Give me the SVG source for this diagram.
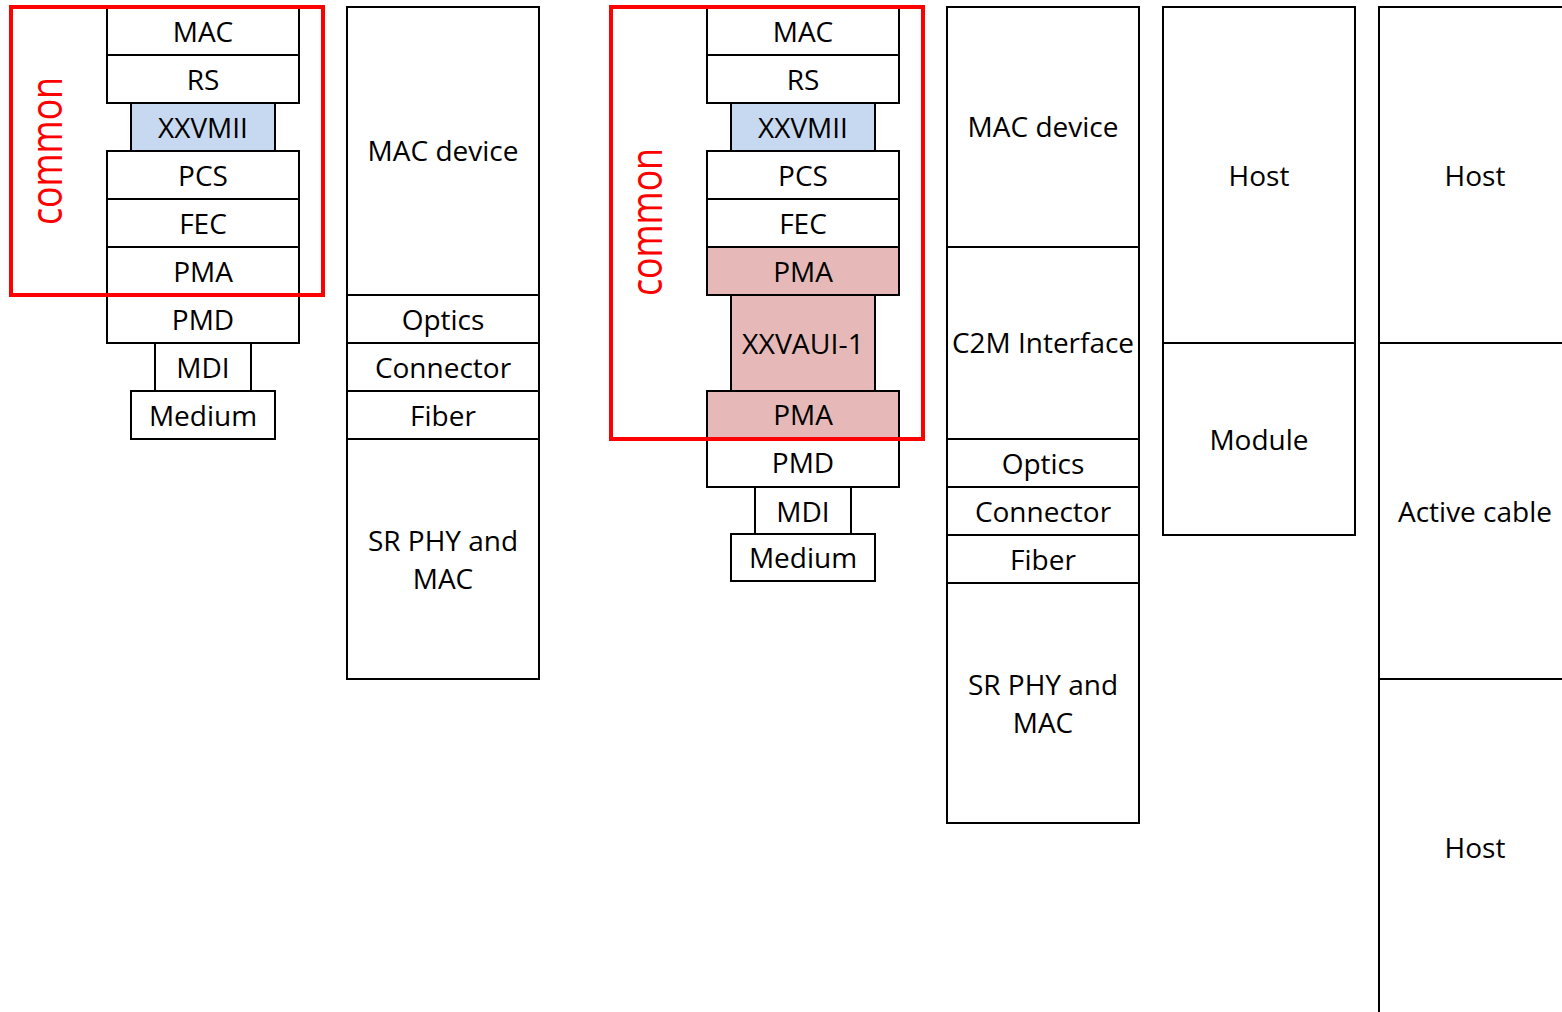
<svg xmlns="http://www.w3.org/2000/svg" width="1562" height="1012" viewBox="0 0 1562 1012">
<style>
.b{fill:#fff;stroke:#000;stroke-width:2}
.blue{fill:#C6D9F1;stroke:#000;stroke-width:2}
.pink{fill:#E6B9B8;stroke:#000;stroke-width:2}
.t{font-family:"Open Sans","Noto Sans",sans-serif;font-size:28px;fill:#000;text-anchor:middle}
.red{fill:none;stroke:#FF0000;stroke-width:4}
.rt{font-family:"Open Sans","Noto Sans",sans-serif;font-size:44px;fill:#FF0000;text-anchor:middle}
</style>
<rect width="1562" height="1012" fill="#fff"/>
<!-- Stack 1 -->
<g id="s1-mac"><rect class="b" x="107" y="7" width="192" height="48"/><text class="t" x="203" y="42">MAC</text></g>
<g id="s1-rs"><rect class="b" x="107" y="55" width="192" height="48"/><text class="t" x="203" y="90">RS</text></g>
<g id="s1-xxvmii"><rect class="blue" x="131" y="103" width="144" height="48"/><text class="t" x="203" y="138">XXVMII</text></g>
<g id="s1-pcs"><rect class="b" x="107" y="151" width="192" height="48"/><text class="t" x="203" y="186">PCS</text></g>
<g id="s1-fec"><rect class="b" x="107" y="199" width="192" height="48"/><text class="t" x="203" y="234">FEC</text></g>
<g id="s1-pma"><rect class="b" x="107" y="247" width="192" height="48"/><text class="t" x="203" y="282">PMA</text></g>
<g id="s1-pmd"><rect class="b" x="107" y="295" width="192" height="48"/><text class="t" x="203" y="330">PMD</text></g>
<g id="s1-mdi"><rect class="b" x="155" y="343" width="96" height="48"/><text class="t" x="203" y="378">MDI</text></g>
<g id="s1-medium"><rect class="b" x="131" y="391" width="144" height="48"/><text class="t" x="203" y="426">Medium</text></g>
<g id="s1-common"><rect class="red" x="11" y="7" width="312" height="288"/><text class="rt" transform="translate(62,151) rotate(-90)" textLength="148" lengthAdjust="spacingAndGlyphs">common</text></g>
<!-- Column 2 -->
<g id="c2-macdev"><rect class="b" x="347" y="7" width="192" height="288"/><text class="t" x="443" y="161">MAC device</text></g>
<g id="c2-optics"><rect class="b" x="347" y="295" width="192" height="48"/><text class="t" x="443" y="330">Optics</text></g>
<g id="c2-connector"><rect class="b" x="347" y="343" width="192" height="48"/><text class="t" x="443" y="378">Connector</text></g>
<g id="c2-fiber"><rect class="b" x="347" y="391" width="192" height="48"/><text class="t" x="443" y="426">Fiber</text></g>
<g id="c2-sr"><rect class="b" x="347" y="439" width="192" height="240"/><text class="t" x="443" y="551">SR PHY and</text><text class="t" x="443" y="589">MAC</text></g>
<!-- Stack 3 -->
<g id="s3-mac"><rect class="b" x="707" y="7" width="192" height="48"/><text class="t" x="803" y="42">MAC</text></g>
<g id="s3-rs"><rect class="b" x="707" y="55" width="192" height="48"/><text class="t" x="803" y="90">RS</text></g>
<g id="s3-xxvmii"><rect class="blue" x="731" y="103" width="144" height="48"/><text class="t" x="803" y="138">XXVMII</text></g>
<g id="s3-pcs"><rect class="b" x="707" y="151" width="192" height="48"/><text class="t" x="803" y="186">PCS</text></g>
<g id="s3-fec"><rect class="b" x="707" y="199" width="192" height="48"/><text class="t" x="803" y="234">FEC</text></g>
<g id="s3-pma1"><rect class="pink" x="707" y="247" width="192" height="48"/><text class="t" x="803" y="282">PMA</text></g>
<g id="s3-xxvaui"><rect class="pink" x="731" y="295" width="144" height="96"/><text class="t" x="803" y="354" textLength="122" lengthAdjust="spacingAndGlyphs">XXVAUI-1</text></g>
<g id="s3-pma2"><rect class="pink" x="707" y="391" width="192" height="48"/><text class="t" x="803" y="425">PMA</text></g>
<g id="s3-pmd"><rect class="b" x="707" y="439" width="192" height="48"/><text class="t" x="803" y="473">PMD</text></g>
<g id="s3-mdi"><rect class="b" x="755" y="487" width="96" height="47"/><text class="t" x="803" y="522">MDI</text></g>
<g id="s3-medium"><rect class="b" x="731" y="534" width="144" height="47"/><text class="t" x="803" y="568">Medium</text></g>
<g id="s3-common"><rect class="red" x="611" y="7" width="312" height="432"/><text class="rt" transform="translate(662,222) rotate(-90)" textLength="148" lengthAdjust="spacingAndGlyphs">common</text></g>
<!-- Column 4 -->
<g id="c4-macdev"><rect class="b" x="947" y="7" width="192" height="240"/><text class="t" x="1043" y="137">MAC device</text></g>
<g id="c4-c2m"><rect class="b" x="947" y="247" width="192" height="192"/><text class="t" x="1043" y="353" textLength="182" lengthAdjust="spacingAndGlyphs">C2M Interface</text></g>
<g id="c4-optics"><rect class="b" x="947" y="439" width="192" height="48"/><text class="t" x="1043" y="474">Optics</text></g>
<g id="c4-connector"><rect class="b" x="947" y="487" width="192" height="48"/><text class="t" x="1043" y="522">Connector</text></g>
<g id="c4-fiber"><rect class="b" x="947" y="535" width="192" height="48"/><text class="t" x="1043" y="570">Fiber</text></g>
<g id="c4-sr"><rect class="b" x="947" y="583" width="192" height="240"/><text class="t" x="1043" y="695">SR PHY and</text><text class="t" x="1043" y="733">MAC</text></g>
<!-- Column 5 -->
<g id="c5-host"><rect class="b" x="1163" y="7" width="192" height="336"/><text class="t" x="1259" y="186">Host</text></g>
<g id="c5-module"><rect class="b" x="1163" y="343" width="192" height="192"/><text class="t" x="1259" y="450">Module</text></g>
<!-- Column 6 -->
<g id="c6-host1"><rect class="b" x="1379" y="7" width="192" height="336"/><text class="t" x="1475" y="186">Host</text></g>
<g id="c6-cable"><rect class="b" x="1379" y="343" width="192" height="336"/><text class="t" x="1475" y="522">Active cable</text></g>
<g id="c6-host2"><rect class="b" x="1379" y="679" width="192" height="340"/><text class="t" x="1475" y="858">Host</text></g>
<g id="connectors"></g>
</svg>
